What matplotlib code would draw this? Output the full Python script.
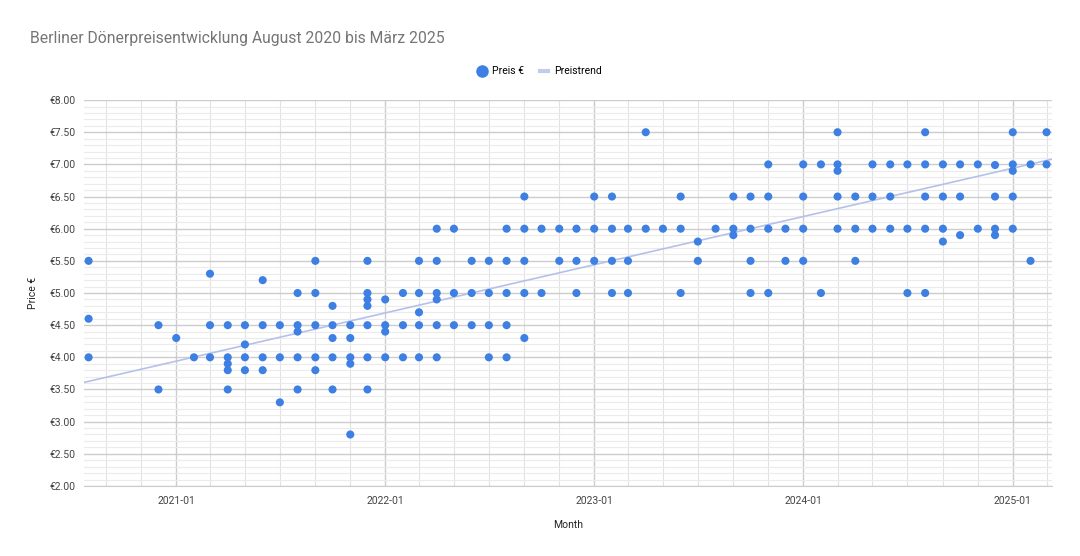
import numpy as np
import matplotlib
matplotlib.use('Agg')
import matplotlib.pyplot as plt
import matplotlib.dates as mdates
from matplotlib.ticker import MultipleLocator, FuncFormatter
from matplotlib.lines import Line2D

plt.rcParams['font.family'] = ['Roboto', 'DejaVu Sans']

# Monat -> beobachtete Preise
monate = ['2020-08', '2020-12',
          '2021-01', '2021-02', '2021-03', '2021-04', '2021-05', '2021-06',
          '2021-07', '2021-08', '2021-09', '2021-10', '2021-11', '2021-12',
          '2022-01', '2022-02', '2022-03', '2022-04', '2022-05', '2022-06',
          '2022-07', '2022-08', '2022-09', '2022-10', '2022-11', '2022-12',
          '2023-01', '2023-02', '2023-03', '2023-04', '2023-05', '2023-06',
          '2023-07', '2023-08', '2023-09', '2023-10', '2023-11', '2023-12',
          '2024-01', '2024-02', '2024-03', '2024-04', '2024-05', '2024-06',
          '2024-07', '2024-08', '2024-09', '2024-10', '2024-11', '2024-12',
          '2025-01', '2025-02', '2025-03']

preise = [[5.5, 4.6, 4.0], [4.5, 3.5],
          [4.3], [4.0], [5.3, 4.5, 4.0], [4.5, 4.0, 3.9, 3.8, 3.5],
          [4.5, 4.2, 4.0, 3.8], [5.2, 4.5, 4.0, 3.8],
          [4.5, 4.0, 3.3], [5.0, 4.5, 4.4, 4.0, 3.5], [5.5, 5.0, 4.5, 4.0, 3.8],
          [4.8, 4.5, 4.3, 4.0, 3.5], [4.5, 4.3, 4.0, 3.9, 2.8],
          [5.5, 5.0, 4.9, 4.8, 4.5, 4.0, 3.5],
          [4.9, 4.5, 4.4, 4.0], [5.0, 4.5, 4.0], [5.5, 5.0, 4.7, 4.5, 4.0],
          [6.0, 5.5, 5.0, 4.9, 4.5, 4.0], [6.0, 5.0, 4.5], [5.5, 5.0, 4.5],
          [5.5, 5.0, 4.5, 4.0], [6.0, 5.5, 5.0, 4.5, 4.0], [6.5, 6.0, 5.5, 5.0, 4.3],
          [6.0, 5.0], [6.0, 5.5], [6.0, 5.5, 5.0],
          [6.5, 6.0, 5.5], [6.5, 6.0, 5.5, 5.0], [6.0, 5.5, 5.0], [7.5, 6.0],
          [6.0], [6.5, 6.0, 5.0],
          [5.8, 5.5], [6.0], [6.5, 6.0, 5.9], [6.5, 6.0, 5.5, 5.0],
          [7.0, 6.5, 6.0, 5.0], [6.0, 5.5],
          [7.0, 6.5, 6.0, 5.5], [7.0, 5.0], [7.5, 7.0, 6.9, 6.5, 6.0],
          [6.5, 6.0, 5.5], [7.0, 6.5, 6.0], [7.0, 6.5, 6.0],
          [7.0, 6.0, 5.0], [7.5, 7.0, 6.5, 6.0, 5.0], [7.0, 6.5, 6.0, 5.8],
          [7.0, 6.5, 5.9], [7.0, 6.0], [6.99, 6.5, 6.0, 5.9],
          [7.5, 7.0, 6.9, 6.5, 6.0], [7.0, 5.5], [7.5, 7.0]]

trend_daten = ['2020-07-24', '2025-03-10']
trend_preis = [3.61, 7.08]

x_dates = []
y_vals = []
for m, p in zip(monate, preise):
    for v in p:
        x_dates.append(np.datetime64(m + '-01'))
        y_vals.append(v)
x_num = mdates.date2num(np.array(x_dates))
y_vals = np.array(y_vals)
xt = mdates.date2num(np.array(trend_daten, dtype='datetime64[D]'))

fig = plt.figure(figsize=(10.8, 5.56), dpi=100)
ax = fig.add_axes([0.0778, 0.126, 0.896, 0.694])

ax.plot(xt, trend_preis, color='#b4c2ea', lw=1.2, zorder=2)
ax.scatter(x_num, y_vals, s=34, color='#3d7fe3', edgecolors='none', zorder=3)

ax.set_xlim(xt[0], xt[1])
ax.set_ylim(2, 8)
ax.yaxis.set_major_locator(MultipleLocator(0.5))
ax.yaxis.set_minor_locator(MultipleLocator(0.1))
ax.yaxis.set_major_formatter(FuncFormatter(lambda v, pos: '€%.2f' % v))
ax.xaxis.set_major_locator(mdates.YearLocator())
ax.xaxis.set_major_formatter(mdates.DateFormatter('%Y-%m'))
ax.xaxis.set_minor_locator(mdates.MonthLocator(bymonth=[3, 5, 7, 9, 11]))

ax.grid(which='major', axis='y', color='#cccccc', lw=1.0)
ax.grid(which='minor', axis='y', color='#ebebeb', lw=0.8)
ax.grid(which='major', axis='x', color='#cccccc', lw=1.0)
ax.grid(which='minor', axis='x', color='#e2e2e2', lw=0.8)
ax.set_axisbelow(True)

for s in ['top', 'right', 'left']:
    ax.spines[s].set_visible(False)
ax.spines['bottom'].set_color('#cccccc')
ax.tick_params(which='both', length=0)
ax.tick_params(axis='y', labelsize=7.5, labelcolor='#444444', pad=6)
ax.tick_params(axis='x', labelsize=7.5, labelcolor='#444444', pad=7)

ax.set_xlabel('Month', fontsize=7.5, color='#222222', labelpad=10)
ax.set_ylabel('Price €', fontsize=7.5, color='#222222', labelpad=8)

fig.text(0.028, 0.93, 'Berliner Dönerpreisentwicklung August 2020 bis März 2025',
         fontsize=11.3, color='#757575', va='center')

handles = [Line2D([], [], marker='o', ls='none', color='#3d7fe3', markersize=8),
           Line2D([], [], color='#c5cbef', lw=3)]
fig.legend(handles, ['Preis €', 'Preistrend'], loc='center', bbox_to_anchor=(0.5, 0.872),
           ncol=2, frameon=False, fontsize=7.5, handlelength=0.8, handletextpad=0.6,
           columnspacing=1.5)

fig.savefig('out.png', dpi=100)
plt.close()
